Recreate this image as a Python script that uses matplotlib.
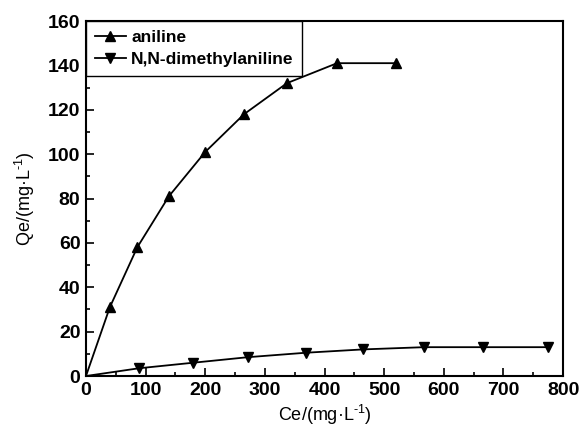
import matplotlib
matplotlib.use("Agg")
import matplotlib.pyplot as plt
from matplotlib.ticker import MultipleLocator

plt.rcParams['font.family'] = ['Liberation Sans', 'DejaVu Sans']
plt.rcParams['mathtext.fontset'] = 'custom'
plt.rcParams['mathtext.rm'] = 'Liberation Sans'
plt.rcParams['mathtext.it'] = 'Liberation Sans:italic'
plt.rcParams['mathtext.bf'] = 'Liberation Sans:bold'

aniline_ce = [0, 40, 86, 139, 200, 265, 337, 421, 520]
aniline_qe = [0, 31, 58, 81, 101, 118, 132, 141, 141]
dma_ce = [0, 89, 180, 272, 369, 465, 567, 666, 775]
dma_qe = [0, 3.5, 6, 8.5, 10.5, 12, 13, 13, 13]

fig = plt.figure(figsize=(5.79, 4.29), dpi=100)
ax = fig.add_axes([0.1485, 0.1235, 0.824, 0.8275])

ax.plot(aniline_ce, aniline_qe, color='black', lw=1.3, marker='^', ms=7,
        markevery=list(range(1, len(aniline_ce))), label='aniline')
ax.plot(dma_ce, dma_qe, color='black', lw=1.3, marker='v', ms=7,
        markevery=list(range(1, len(dma_ce))), label='N,N-dimethylaniline')

ax.set_xlim(0, 800)
ax.set_ylim(0, 160)
ax.xaxis.set_major_locator(MultipleLocator(100))
ax.xaxis.set_minor_locator(MultipleLocator(50))
ax.yaxis.set_major_locator(MultipleLocator(20))
ax.yaxis.set_minor_locator(MultipleLocator(10))
ax.tick_params(which='both', direction='in', top=False, right=False, width=1.2)
ax.tick_params(which='major', length=6, labelsize=14, pad=4)
ax.tick_params(which='minor', length=3)
for lab in ax.get_xticklabels() + ax.get_yticklabels():
    lab.set_fontweight('bold')
for s in ax.spines.values():
    s.set_linewidth(1.5)

ax.set_xlabel('Ce/(mg·L$^{\\text{-}1}$)', fontsize=13, labelpad=3)
ax.set_ylabel('Qe/(mg·L$^{\\text{-}1}$)', fontsize=13, labelpad=8)

leg = ax.legend(loc='upper left', bbox_to_anchor=(0, 1), borderaxespad=0,
                fancybox=False, framealpha=1, edgecolor='black',
                prop={'size': 12.5, 'weight': 'bold'}, handlelength=1.8,
                handletextpad=0.3, borderpad=0.5, labelspacing=0.4)
leg.get_frame().set_linewidth(1.0)

fig.savefig('out.png', dpi=100)
